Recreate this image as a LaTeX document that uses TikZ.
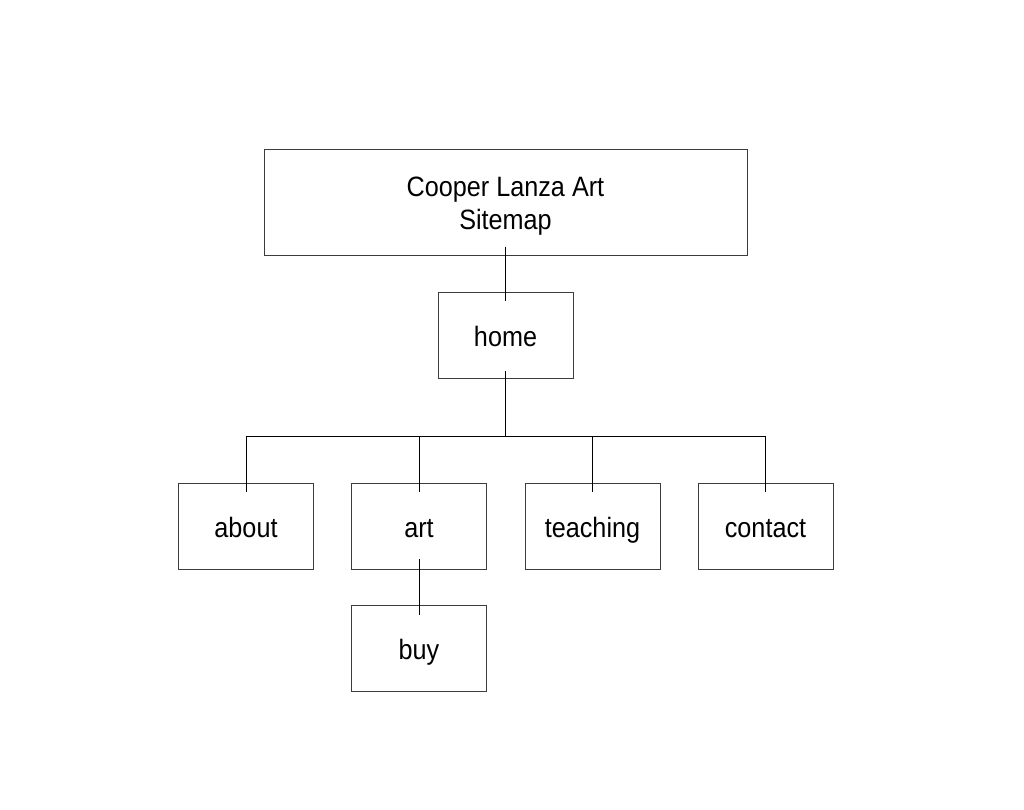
\documentclass[tikz,border=0pt]{standalone}
\usepackage{fontspec}
\setmainfont{Liberation Sans}[FakeStretch=0.9]
\usetikzlibrary{calc}
\definecolor{boxgray}{RGB}{60,60,60}
\begin{document}
\begin{tikzpicture}[x=1pt,y=-1pt,
  box/.style={draw=boxgray, line width=1pt, minimum width=135pt, minimum height=86pt,
    inner sep=0pt, font=\fontsize{28}{33.5}\selectfont, text height=21.5pt, text depth=0pt},
  titlebox/.style={draw=boxgray, line width=1pt, minimum width=483pt, minimum height=106pt, inner sep=0pt},
  titletext/.style={anchor=base, inner sep=0pt, font=\fontsize{28}{33.5}\selectfont},
  conn/.style={draw=black, line width=1pt}]
\useasboundingbox (0,0) rectangle (1024,809);
\fill[white] (0,0) rectangle (1024,809);
\node[titlebox] (title) at (505.5,202) {};
\node[titletext] (t1) at (505.5,196) {Cooper Lanza Art};
\node[titletext] (t2) at (505.5,229.5) {Sitemap};
\node[box, minimum height=85.5pt] (home) at (505.5,335.5) {home};
\node[box] (about) at (246,526.5) {about};
\node[box] (art) at (419,526.5) {art};
\node[box] (teaching) at (592.5,526.5) {teaching};
\node[box] (contact) at (765.5,526.5) {contact};
\node[box] (buy) at (419,648.7) {buy};
\coordinate (j) at (505.5,436);
\draw[conn] ([yshift=9pt]title.south) -- ([yshift=-9pt]home.north);
\draw[conn] ([yshift=8pt]home.south) -- (j);
\draw[conn] (about.north |- j) -- (contact.north |- j);
\foreach \c in {about,art,teaching,contact}
  \draw[conn] (\c.north |- j) -- ([yshift=-9pt]\c.north);
\draw[conn] ([yshift=11pt]art.south) -- ([yshift=-10pt]buy.north);
\end{tikzpicture}
\end{document}
